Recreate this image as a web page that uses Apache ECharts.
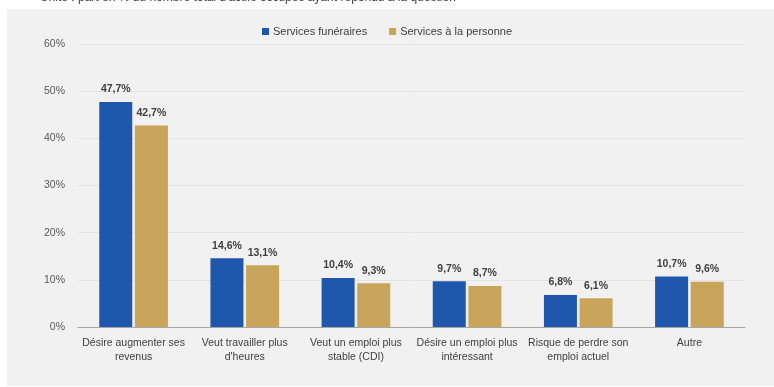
<!DOCTYPE html>
<html>
<head>
<meta charset="utf-8">
<script src="https://cdn.jsdelivr.net/npm/echarts@6/dist/echarts.min.js"></script>
<style>
  html, body { margin: 0; padding: 0; background: #ffffff; }
  #chart { width: 774px; height: 387px; }
</style>
</head>
<body>
<div id="chart"></div>
<script>
// Raisons de rechercher un autre emploi, par secteur (part en %)
const categories = [
  'Désire augmenter ses\nrevenus',
  'Veut travailler plus\nd\'heures',
  'Veut un emploi plus\nstable (CDI)',
  'Désire un emploi plus\nintéressant',
  'Risque de perdre son\nemploi actuel',
  'Autre'
];
const seriesNames = ['Services funéraires', 'Services à la personne'];
const funeraires = [47.7, 14.6, 10.4, 9.7, 6.8, 10.7];
const personne = [42.7, 13.1, 9.3, 8.7, 6.1, 9.6];
const yTicks = [0, 10, 20, 30, 40, 50, 60];
const subtitle = 'Unité : part en % du nombre total d\'actifs occupés ayant répondu à la question';

const FONT = '"Liberation Sans", "DejaVu Sans", sans-serif';
const fmt = v => v.toFixed(1).replace('.', ',') + '%';

const chart = echarts.init(document.getElementById('chart'));
chart.setOption({
  backgroundColor: '#ffffff',
  animation: false,
  graphic: [
    { type: 'rect', left: 7, top: 9, shape: { width: 767, height: 377 },
      style: { fill: '#f1f1f1' }, z: -10 },
    { type: 'text', left: 40, top: -8,
      style: { text: subtitle, font: '12px ' + FONT, fill: '#404040' } }
  ],
  legend: {
    data: seriesNames,
    top: 21,
    left: 'center',
    itemWidth: 7,
    itemHeight: 7,
    itemGap: 22,
    icon: 'rect',
    textStyle: { fontFamily: FONT, fontSize: 11, color: '#404040', padding: [0, 0, 0, -1] }
  },
  grid: { left: 78, right: 29, top: 44, bottom: 60, containLabel: false },
  xAxis: {
    type: 'category',
    data: categories,
    axisLine: { lineStyle: { color: '#a6a6a6', width: 1 } },
    axisTick: { show: false },
    axisLabel: {
      interval: 0, fontFamily: FONT, fontSize: 10.5, color: '#404040',
      lineHeight: 14, margin: 9
    }
  },
  yAxis: {
    type: 'value',
    min: yTicks[0],
    max: yTicks[yTicks.length - 1],
    interval: 10,
    axisLine: { show: false },
    axisTick: { show: false },
    splitLine: { lineStyle: { color: '#e3e3e3', width: 1 } },
    axisLabel: {
      fontFamily: FONT, fontSize: 10.5, color: '#595959', margin: 13,
      formatter: v => v + '%'
    }
  },
  series: [
    {
      name: seriesNames[0], type: 'bar', data: funeraires,
      barWidth: 33, barGap: '8%',
      itemStyle: { color: '#1f57ad' },
      label: { show: true, position: 'top', distance: 7, formatter: p => fmt(p.value),
        fontFamily: FONT, fontSize: 10.5, fontWeight: 'bold', color: '#404040' }
    },
    {
      name: seriesNames[1], type: 'bar', data: personne,
      barWidth: 33,
      itemStyle: { color: '#c9a45b' },
      label: { show: true, position: 'top', distance: 7, formatter: p => fmt(p.value),
        fontFamily: FONT, fontSize: 10.5, fontWeight: 'bold', color: '#404040' }
    }
  ]
});
</script>
</body>
</html>
